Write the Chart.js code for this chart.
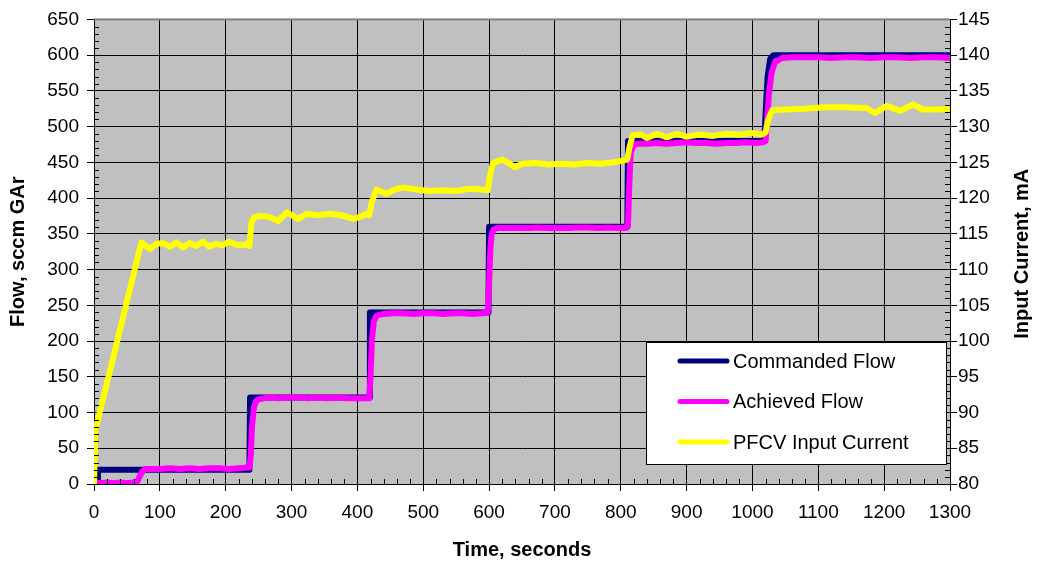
<!DOCTYPE html>
<html><head><meta charset="utf-8">
<script src="https://cdn.jsdelivr.net/npm/chart.js@4/dist/chart.umd.min.js"></script>
<style>html,body{margin:0;padding:0;background:#fff}#wrap{width:1040px;height:562px;position:relative}</style>
</head><body><div id="wrap"><canvas id="c" width="1040" height="562"></canvas></div>
<script>
const seriesLabels = ['Commanded Flow', 'Achieved Flow', 'PFCV Input Current'];
const xTitle = 'Time, seconds';
const yTitle = 'Flow, sccm GAr';
const y1Title = 'Input Current, mA';

const commandedT = [0, 5, 6, 236, 237, 418, 419, 599, 600, 810, 811, 1018, 1020, 1023, 1027, 1032, 1300];
const commandedV = [0, 0, 20, 20, 121, 121, 240, 240, 360, 360, 480, 480, 520, 570, 595, 600, 600];

const achievedT = [0,10,20,30,40,50,60,66,70,74,78,85,100,115,130,145,160,175,190,205,220,232,236,238,240,243,247,252,265,280,295,310,325,340,355,370,385,400,412,418,420,422,425,430,440,455,470,485,500,515,530,545,560,575,590,598,600,602,604,607,612,630,645,660,675,690,705,720,735,750,765,780,795,808,811,813,815,818,824,840,855,870,885,900,915,930,945,960,975,990,1005,1016,1020,1022,1025,1029,1034,1045,1060,1080,1100,1120,1140,1160,1180,1200,1220,1240,1260,1280,1300];
const achievedV = [2,1,2,1,2,1,2,4,12,18,21,21,21,22,21,22,21,22,22,21,22,23,23,40,80,108,117,119,121,120,121,121,120,121,120,121,120,120,120,120,150,200,228,236,238,239,239,238,239,239,238,239,239,238,239,240,280,330,350,356,358,358,358,358,359,358,358,358,359,359,358,359,358,358,362,420,462,472,476,476,477,476,477,478,477,477,476,477,477,478,477,478,480,505,545,575,590,596,597,597,597,596,597,597,596,597,597,596,597,597,596];

const currentT = [0,2,72,80,85,95,105,115,125,135,145,155,165,175,185,195,205,215,225,232,236,239,243,252,265,280,293,310,323,340,358,375,394,405,414,418,422,429,444,455,469,490,510,530,550,570,590,598,601,606,620,630,639,650,670,690,710,730,750,770,790,805,810,813,818,830,840,855,870,885,900,920,940,960,980,1000,1015,1020,1024,1030,1050,1080,1110,1140,1173,1186,1204,1224,1244,1259,1280,1300];
const currentV = [80,87.5,113.8,113.2,112.9,113.6,113.7,113.2,113.8,113.1,113.7,113.3,113.9,113.2,113.6,113.4,113.9,113.5,113.4,113.6,113.3,116.5,117.3,117.5,117.4,116.8,118,117.1,117.8,117.6,117.8,117.6,117.1,117.4,117.8,117.6,119.5,121.2,120.6,121.1,121.5,121.2,121,121.1,121,121.3,121.2,121.1,123,124.9,125.4,124.9,124.3,124.8,124.9,124.7,124.8,124.7,124.9,124.8,125,125.3,125.4,127,128.8,128.9,128.4,129,128.5,129,128.6,128.9,128.7,129,128.9,129.1,128.9,129.2,131,132.3,132.4,132.5,132.7,132.7,132.6,131.9,132.9,132.2,133.1,132.4,132.4,132.5];

const xTicks = {min: 0, max: 1300, step: 100, minor: 20};
const yTicks = {min: 0, max: 650, step: 50, minor: 10};
const y1Ticks = {min: 80, max: 145, step: 5, minor: 1};

const colors = ['#000080', '#FF00FF', '#FFFF00'];
const FONT = '"Liberation Sans", Arial, sans-serif';
Chart.defaults.font.family = FONT;
Chart.defaults.color = '#000';

const pts = (T, V) => T.map((t, i) => ({x: t, y: V[i]}));
const plain = (v) => String(v);

const decor = {
  id: 'decor',
  beforeDraw(chart) {
    const {ctx, chartArea: a} = chart;
    ctx.save();
    ctx.fillStyle = '#C0C0C0';
    ctx.fillRect(a.left, a.top, a.right - a.left, a.bottom - a.top);
    ctx.restore();
  },
  afterDraw(chart) {
    const {ctx, chartArea: a, scales} = chart;
    ctx.save();
    ctx.fillStyle = '#808080';
    ctx.fillRect(a.left, a.top - 1, a.right - a.left, 2);
    ctx.strokeStyle = '#000';
    ctx.lineWidth = 1;
    ctx.beginPath();
    for (let v = xTicks.min; v <= xTicks.max; v += xTicks.minor) {
      if (v % xTicks.step === 0) continue;
      const px = Math.round(scales.x.getPixelForValue(v)) + 0.5;
      ctx.moveTo(px, a.bottom); ctx.lineTo(px, a.bottom - 5);
    }
    for (let v = yTicks.min; v <= yTicks.max; v += yTicks.minor) {
      if (v % yTicks.step === 0) continue;
      const py = Math.round(scales.y.getPixelForValue(v)) + 0.5;
      ctx.moveTo(a.left, py); ctx.lineTo(a.left + 5, py);
    }
    for (let v = y1Ticks.min; v <= y1Ticks.max; v += y1Ticks.minor) {
      if ((v - y1Ticks.min) % y1Ticks.step === 0) continue;
      const py = Math.round(scales.y1.getPixelForValue(v)) + 0.5;
      ctx.moveTo(a.right, py); ctx.lineTo(a.right - 5, py);
    }
    ctx.stroke();
    ctx.translate(1022, (a.top + a.bottom) / 2 + 2);
    ctx.rotate(-Math.PI / 2);
    ctx.font = 'bold 20px ' + FONT;
    ctx.fillStyle = '#000';
    ctx.textAlign = 'center';
    ctx.textBaseline = 'middle';
    ctx.fillText(y1Title, 0, 0);
    ctx.restore();
    ctx.save();
    ctx.fillStyle = '#fff';
    ctx.fillRect(647, 343, 299, 121);
    ctx.strokeStyle = '#000';
    ctx.lineWidth = 1;
    ctx.strokeRect(646.5, 342.5, 300, 122);
    ctx.font = '20px ' + FONT;
    ctx.textBaseline = 'middle';
    ctx.textAlign = 'left';
    chart.data.datasets.forEach((ds, i) => {
      const y = 361 + i * 40.5;
      ctx.strokeStyle = ds.borderColor;
      ctx.lineWidth = 5;
      ctx.lineCap = 'round';
      ctx.beginPath(); ctx.moveTo(680, y); ctx.lineTo(727, y); ctx.stroke();
      ctx.fillStyle = '#000';
      ctx.fillText(ds.label, 733, y + 1);
    });
    ctx.restore();
  }
};

const common = {pointRadius: 0, borderWidth: 6, tension: 0, borderJoinStyle: 'round', borderCapStyle: 'round', fill: false};

new Chart(document.getElementById('c'), {
  type: 'line',
  data: {
    datasets: [
      Object.assign({label: seriesLabels[0], data: pts(commandedT, commandedV), borderColor: colors[0], backgroundColor: colors[0], yAxisID: 'y', order: 3}, common),
      Object.assign({label: seriesLabels[1], data: pts(achievedT, achievedV), borderColor: colors[1], backgroundColor: colors[1], yAxisID: 'y', order: 2}, common),
      Object.assign({label: seriesLabels[2], data: pts(currentT, currentV), borderColor: colors[2], backgroundColor: colors[2], yAxisID: 'y1', order: 1}, common)
    ]
  },
  options: {
    responsive: false,
    animation: false,
    devicePixelRatio: 1,
    layout: {padding: {top: 17, left: 0, right: 0, bottom: 0}},
    plugins: {legend: {display: false}, tooltip: {enabled: false}},
    scales: {
      x: {
        type: 'linear', min: xTicks.min, max: xTicks.max,
        ticks: {stepSize: xTicks.step, font: {size: 19}, color: '#000', padding: 10, maxRotation: 0, callback: plain},
        grid: {color: '#000', lineWidth: 1, tickLength: 7, drawTicks: true},
        border: {display: true, color: '#000', width: 1},
        title: {display: true, text: xTitle, font: {size: 20, weight: 'bold'}, color: '#000', padding: {top: 0, bottom: 0}},
        afterFit(s) { s.height = 78; }
      },
      y: {
        type: 'linear', position: 'left', min: yTicks.min, max: yTicks.max,
        ticks: {stepSize: yTicks.step, font: {size: 19}, color: '#000', padding: 8, callback: plain},
        grid: {color: '#000', lineWidth: 1, tickLength: 7, drawTicks: true},
        border: {display: true, color: '#000', width: 1},
        title: {display: true, text: yTitle, font: {size: 20, weight: 'bold'}, color: '#000', padding: {top: 6, bottom: 0}},
        afterFit(s) { s.width = 94; }
      },
      y1: {
        type: 'linear', position: 'right', min: y1Ticks.min, max: y1Ticks.max,
        ticks: {stepSize: y1Ticks.step, font: {size: 19}, color: '#000', padding: 1, callback: plain},
        grid: {drawOnChartArea: false, color: '#000', lineWidth: 1, tickLength: 7, drawTicks: true},
        border: {display: true, color: '#000', width: 1},
        title: {display: false, text: y1Title},
        afterFit(s) { s.width = 90; }
      }
    }
  },
  plugins: [decor]
});
</script>
</body></html>
